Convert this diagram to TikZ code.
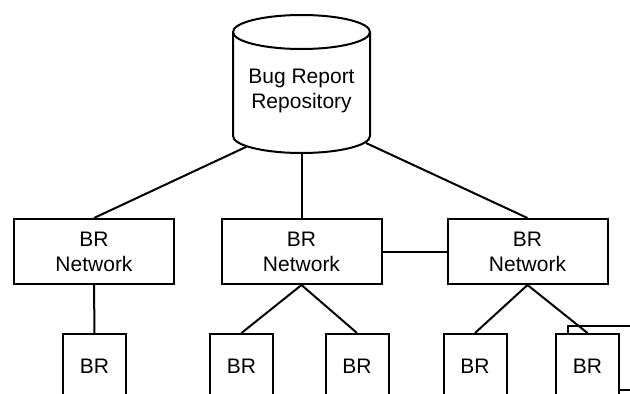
\documentclass[tikz,border=0pt]{standalone}
\usepackage{fontspec}
\setmainfont{Liberation Sans}

\tikzset{
  netbox/.style={draw,fill=white,minimum width=160pt,minimum height=65pt,
    inner sep=0pt,align=center},
  brbox/.style={draw,fill=white,minimum width=63pt,minimum height=64pt,inner sep=0pt},
}

\begin{document}
\begin{tikzpicture}[x=1pt,y=-1pt,line width=2pt,
  font=\fontsize{21}{25}\selectfont]
\useasboundingbox (0,0) rectangle (630,394);
\clip (0,0) rectangle (630,394);

% repository drum
\draw (301.5,32) ellipse (68.5 and 17);
\draw (233,32) -- (233,136)
  arc[start angle=180,end angle=0,x radius=68.5,y radius=17] -- (370,32);
\node[align=center] (repo) at (301.5,91) {Bug Report\\Repository};
\coordinate (repoL) at (247,146.5);
\coordinate (repoC) at (301.5,153);
\coordinate (repoR) at (366,143);

% the three networks
\node[netbox] (netL) at (94,251.5) {BR\\Network};
\node[netbox] (netC) at (301.5,251.5) {BR\\Network};
\node[netbox] (netR) at (527.5,251.5) {BR\\Network};

% single reports (the last one is a stack)
\node[brbox] (brback) at (599.5,358) {};
\node[brbox] (brA) at (94.5,366) {BR};
\node[brbox] (brB) at (241.5,366) {BR};
\node[brbox] (brC) at (357,366) {BR};
\node[brbox] (brD) at (475,366) {BR};
\node[brbox] (brE) at (587.5,366) {BR};

% links
\draw (repoL) -- (netL.north);
\draw (repoC) -- (netC.north);
\draw (repoR) -- (netR.north);
\draw (netC.east) -- (netR.west);
\draw (netL.south) -- (brA.north);
\draw (netC.south) -- (brB.north);
\draw (netC.south) -- (brC.north);
\draw (netR.south) -- (brD.north);
\draw (netR.south) -- (brE.north);
\end{tikzpicture}
\end{document}
